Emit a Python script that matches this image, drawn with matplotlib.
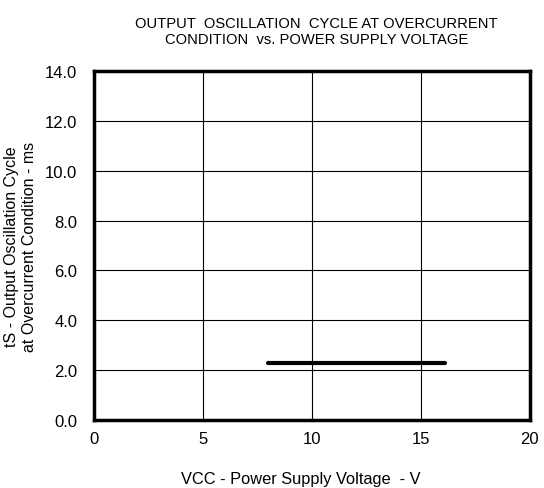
import matplotlib.pyplot as plt
import numpy as np

plt.rcParams['font.family'] = ['Liberation Sans', 'DejaVu Sans']

# data
vcc = [8.0, 16.1]
ts = [2.3, 2.3]

x_ticks = [0, 5, 10, 15, 20]
y_ticks = [0, 2, 4, 6, 8, 10, 12, 14]

fig = plt.figure(figsize=(5.44, 4.89), dpi=100)
ax = fig.add_axes([0.173, 0.139, 0.801, 0.714])

ax.plot(vcc, ts, color='black', linewidth=3, solid_capstyle='round', zorder=3)

ax.set_xlim(0, 20)
ax.set_ylim(0, 14)
ax.set_xticks(x_ticks)
ax.set_yticks(y_ticks)
ax.set_yticklabels([f'{v:.1f}' for v in y_ticks])
ax.tick_params(length=0, labelsize=12)
ax.tick_params(axis='y', pad=12)
ax.tick_params(axis='x', pad=8)
ax.grid(True, color='black', linewidth=0.8)
for s in ax.spines.values():
    s.set_linewidth(2.5)

ax.set_xlabel('VCC - Power Supply Voltage  - V', fontsize=11.8, labelpad=18, x=0.475)
ax.set_ylabel('tS - Output Oscillation Cycle\nat Overcurrent Condition - ms', fontsize=11.5, labelpad=6)
ax.set_title('OUTPUT  OSCILLATION  CYCLE AT OVERCURRENT\nCONDITION  vs. POWER SUPPLY VOLTAGE',
             fontsize=10.6, pad=20, x=0.51)

fig.savefig('out.png', dpi=100)
